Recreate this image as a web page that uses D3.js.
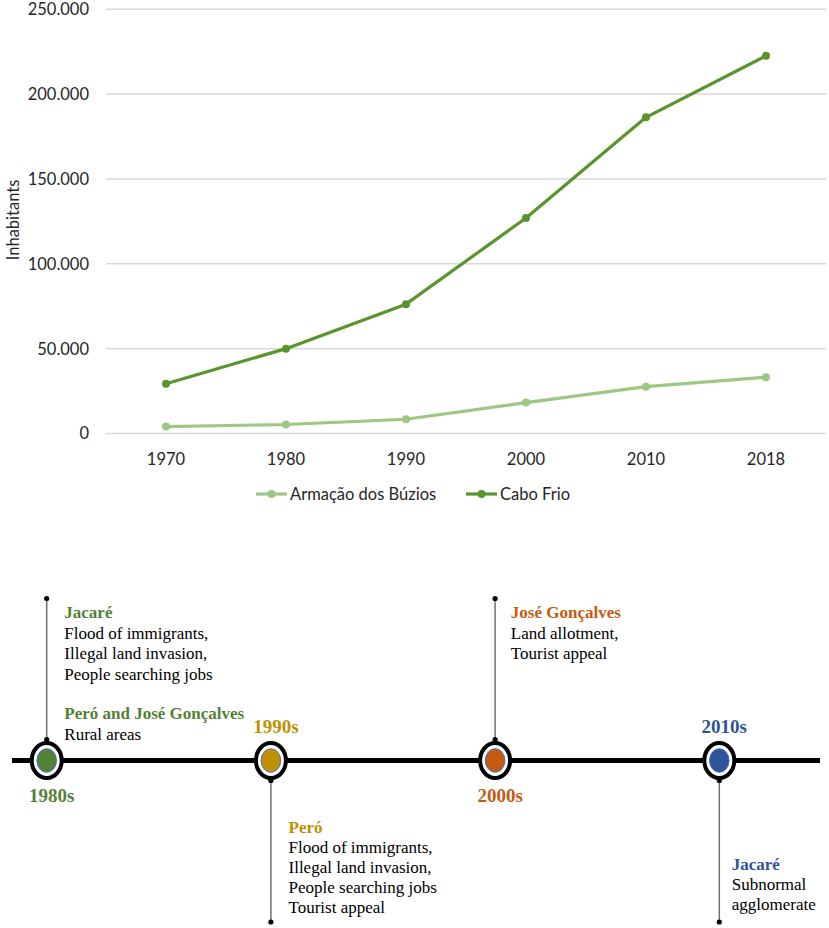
<!DOCTYPE html>
<html>
<head>
<meta charset="utf-8">
<script src="https://cdn.jsdelivr.net/npm/d3@7"></script>
<style>
  html, body { margin: 0; padding: 0; background: #fff; }
  svg { display: block; }
</style>
</head>
<body>
<svg id="chart" width="829" height="928"></svg>
<script>
// ---------- DATA ----------
const years = ["1970", "1980", "1990", "2000", "2010", "2018"];
const buzios = [4100, 5300, 8400, 18200, 27600, 33100];
const caboFrio = [29300, 50000, 76200, 127000, 186300, 222500];
const yTicks = [0, 50000, 100000, 150000, 200000, 250000];
const seriesNames = ["Armação dos Búzios", "Cabo Frio"];
const yTitle = "Inhabitants";

const decades = ["1980s", "1990s", "2000s", "2010s"];
const noteSide = ["up", "down", "up", "down"];
const notes1980 = [
  { head: "Jacaré", lines: ["Flood of immigrants,", "Illegal land invasion,", "People searching jobs"] },
  { head: "Peró and José Gonçalves", lines: ["Rural areas"] }
];
const notes1990 = [
  { head: "Peró", lines: ["Flood of immigrants,", "Illegal land invasion,", "People searching jobs", "Tourist appeal"] }
];
const notes2000 = [
  { head: "José Gonçalves", lines: ["Land allotment,", "Tourist appeal"] }
];
const notes2010 = [
  { head: "Jacaré", lines: ["Subnormal", "agglomerate"] }
];

// ---------- STYLES ----------
const lightGreen = "#9cc883";
const darkGreen = "#58952f";
const decadeFill = ["#548235", "#bf9000", "#c55a11", "#2f5597"];
const decadeText = ["#538135", "#bf9000", "#c55a11", "#2f5496"];
const sansFont = "Lato, 'Open Sans', sans-serif";
const serifFont = "'Liberation Serif', 'DejaVu Serif', serif";

const svg = d3.select("#chart");

// ---------- LINE CHART ----------
const x = d3.scaleBand().domain(years).range([106, 826]);
const y = d3.scaleLinear().domain([0, 250000]).range([433.5, 9.2]);
const fmt = d3.formatLocale({ decimal: ",", thousands: ".", grouping: [3], currency: ["", ""] }).format(",d");

const g = svg.append("g");

// gridlines
g.selectAll("line.grid").data(yTicks).join("line")
  .attr("x1", 106).attr("x2", 826)
  .attr("y1", d => y(d)).attr("y2", d => y(d))
  .attr("stroke", "#d9d9d9").attr("stroke-width", 1.5);

// y tick labels
g.selectAll("text.ytick").data(yTicks).join("text")
  .attr("x", 89).attr("y", d => y(d)).attr("dy", "0.36em")
  .attr("text-anchor", "end")
  .attr("font-family", sansFont).attr("font-size", 16.5).attr("fill", "#262626")
  .text(d => fmt(d));

// x tick labels
g.selectAll("text.xtick").data(years).join("text")
  .attr("x", d => x(d) + x.bandwidth() / 2).attr("y", 464.5)
  .attr("text-anchor", "middle")
  .attr("font-family", sansFont).attr("font-size", 16.5).attr("fill", "#262626")
  .text(d => d);

// y title
g.append("text")
  .attr("transform", "translate(19,220) rotate(-90)")
  .attr("text-anchor", "middle")
  .attr("font-family", sansFont).attr("font-size", 16.5).attr("fill", "#262626")
  .text(yTitle);

const line = d3.line().x((d, i) => x(years[i]) + x.bandwidth() / 2).y(d => y(d));
const series = [
  { name: seriesNames[0], values: buzios, color: lightGreen },
  { name: seriesNames[1], values: caboFrio, color: darkGreen }
];
series.forEach(s => {
  g.append("path").datum(s.values)
    .attr("d", line).attr("fill", "none")
    .attr("stroke", s.color).attr("stroke-width", 3.2)
    .attr("stroke-linejoin", "round");
  g.selectAll(null).data(s.values).join("circle")
    .attr("cx", (d, i) => x(years[i]) + x.bandwidth() / 2)
    .attr("cy", d => y(d)).attr("r", 4)
    .attr("fill", s.color);
});

// legend
const legendX = [256, 466];
series.forEach((s, i) => {
  const lx = legendX[i], ly = 494;
  g.append("line").attr("x1", lx).attr("x2", lx + 31).attr("y1", ly).attr("y2", ly)
    .attr("stroke", s.color).attr("stroke-width", 3.2);
  g.append("circle").attr("cx", lx + 15.5).attr("cy", ly).attr("r", 4).attr("fill", s.color);
  g.append("text").attr("x", lx + 34).attr("y", ly).attr("dy", "0.36em")
    .attr("font-family", sansFont).attr("font-size", 16.5).attr("fill", "#262626")
    .text(s.name);
});

// ---------- TIMELINE ----------
const tx = d3.scalePoint().domain(decades).range([46.7, 719.3]);
const lineY = 760.5;
const t = svg.append("g");

// vertical connectors
decades.forEach((d, i) => {
  const cx = tx(d);
  const up = noteSide[i] === "up";
  const y1 = up ? lineY - 21 : lineY + 20;
  const y2 = up ? 598.5 : 922;
  t.append("line").attr("x1", cx).attr("x2", cx).attr("y1", y1).attr("y2", y2)
    .attr("stroke", "#707070").attr("stroke-width", 1.5);
  [y1, y2].forEach(yy => t.append("circle").attr("cx", cx).attr("cy", yy).attr("r", 2.6).attr("fill", "#000"));
});

// main line
t.append("line").attr("x1", 12).attr("x2", 820).attr("y1", lineY).attr("y2", lineY)
  .attr("stroke", "#000").attr("stroke-width", 5);

// nodes
t.selectAll("ellipse.outer").data(decades).join("ellipse")
  .attr("cx", d => tx(d)).attr("cy", lineY)
  .attr("rx", 15).attr("ry", 17.5)
  .attr("fill", "#fff").attr("stroke", "#000").attr("stroke-width", 4);
t.selectAll("ellipse.inner").data(decades).join("ellipse")
  .attr("cx", d => tx(d)).attr("cy", lineY)
  .attr("rx", 9.8).attr("ry", 11.8)
  .attr("fill", (d, i) => decadeFill[i]).attr("stroke", "#4472c4").attr("stroke-width", 1);

// decade labels
t.selectAll("text.dec").data(decades).join("text")
  .attr("x", d => tx(d) + 5)
  .attr("y", (d, i) => (i % 2 === 0 ? 802 : 733))
  .attr("text-anchor", "middle")
  .attr("font-family", serifFont).attr("font-weight", "bold").attr("font-size", 19)
  .attr("fill", (d, i) => decadeText[i])
  .text(d => d);

// notes
function drawNotes(block, decIdx, x0, yStart, lineH, gapAfter) {
  let yy = yStart;
  block.forEach(b => {
    t.append("text").attr("x", x0).attr("y", yy)
      .attr("font-family", serifFont).attr("font-weight", "bold").attr("font-size", 17)
      .attr("fill", decadeText[decIdx]).text(b.head);
    yy += lineH;
    b.lines.forEach(l => {
      t.append("text").attr("x", x0).attr("y", yy)
        .attr("font-family", serifFont).attr("font-size", 17)
        .attr("fill", "#000").text(l);
      yy += lineH;
    });
    yy += gapAfter;
  });
}
drawNotes(notes1980, 0, tx("1980s") + 17.6, 618, 20.6, 19);
drawNotes(notes1990, 1, tx("1990s") + 17.6, 833, 20, 0);
drawNotes(notes2000, 2, tx("2000s") + 15.7, 618, 20.6, 0);
drawNotes(notes2010, 3, tx("2010s") + 12.4, 870, 20, 0);
</script>
</body>
</html>
